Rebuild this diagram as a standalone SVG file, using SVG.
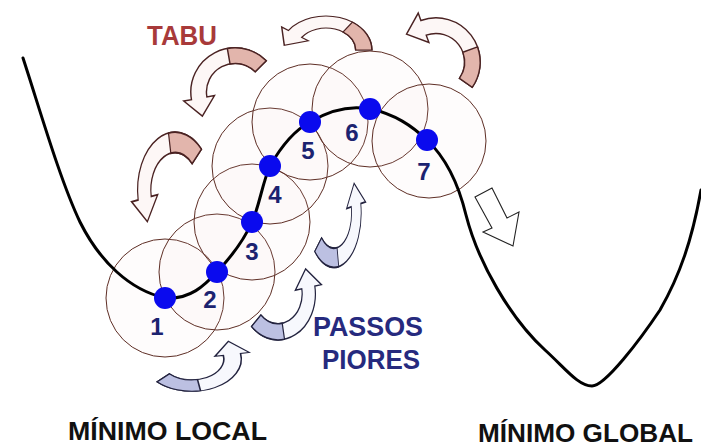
<svg xmlns="http://www.w3.org/2000/svg" xmlns:xlink="http://www.w3.org/1999/xlink" width="701" height="448" viewBox="0 0 701 448">
<style>
.nb{fill:#f3d4d4;fill-opacity:0.08;stroke:#5e2e25;stroke-width:1}
.dot{fill:#0a0aee}
.num{font-family:"Liberation Sans",Arial,sans-serif;font-weight:bold;font-size:24px;fill:#1c2370;text-anchor:middle}
.curve{fill:none;stroke:#000;stroke-width:3;stroke-linejoin:round;stroke-linecap:round}
.lbl{font-family:"Liberation Sans",Arial,sans-serif;font-weight:bold;font-size:26px}
.pkb{fill:#fdf7f6;stroke:#4a2222;stroke-width:1.1}
.pkt{fill:#e2b5ac;stroke:#4a2222;stroke-width:1.1}
.blb{fill:#f7f8fd;stroke:#23233f;stroke-width:1.1}
.blt{fill:#bcc0e2;stroke:#23233f;stroke-width:1.1}
</style>
<defs>
<g id="arrowP">
<path class="pkb" d="M34,0 A34,34 0 0 0 -27.85,-19.5 L-32.8,-23 L-30.9,-4.6 L-13.1,-9.2 L-18,-12.6 A22,22 0 0 1 22,0 Z"/>
<path class="pkt" d="M34,0 A34,34 0 0 0 19.5,-27.85 L12.6,-18 A22,22 0 0 1 22,0 Z"/>
</g>
<g id="arrowB">
<path class="blb" d="M34,0 A34,34 0 0 0 -27.85,-19.5 L-32.8,-23 L-30.9,-4.6 L-13.1,-9.2 L-18,-12.6 A22,22 0 0 1 22,0 Z"/>
<path class="blt" d="M34,0 A34,34 0 0 0 19.5,-27.85 L12.6,-18 A22,22 0 0 1 22,0 Z"/>
</g>
</defs>
<rect width="701" height="448" fill="#ffffff"/>

<g id="neighbourhoods">
<circle class="nb" cx="165" cy="298" r="59"/>
<circle class="nb" cx="217" cy="272" r="58"/>
<circle class="nb" cx="252" cy="222" r="58"/>
<circle class="nb" cx="270" cy="166" r="58"/>
<circle class="nb" cx="310" cy="122" r="58"/>
<circle class="nb" cx="370" cy="109" r="58"/>
<circle class="nb" cx="429" cy="141" r="57"/>
</g>

<g id="connectors">
<path class="curve" d="M23,58 C40,110 60,180 80,222 C100,262 130,290 165,298 C190,300 205,285 217,272 C232,256 244,240 252,222 C260,204 262,184 270,166 C282,145 295,130 310,122 C330,110 350,105 370,109 C395,114 412,126 427,140 C445,157 458,182 466,215 C478,262 510,318 545,350 C565,368 578,386 592,386 C605,386 640,340 660,310 C680,275 692,240 701,190"/>
</g>

<g id="n1"><circle class="dot" cx="165" cy="298" r="11"/><text class="num" x="157" y="335">1</text></g>
<g id="n2"><circle class="dot" cx="217" cy="272" r="11"/><text class="num" x="210" y="308">2</text></g>
<g id="n3"><circle class="dot" cx="252" cy="222" r="11"/><text class="num" x="252" y="260">3</text></g>
<g id="n4"><circle class="dot" cx="270" cy="166" r="11"/><text class="num" x="275" y="203">4</text></g>
<g id="n5"><circle class="dot" cx="310" cy="122" r="11"/><text class="num" x="308" y="159">5</text></g>
<g id="n6"><circle class="dot" cx="370" cy="109" r="11"/><text class="num" x="352" y="141">6</text></g>
<g id="n7"><circle class="dot" cx="427" cy="140" r="11"/><text class="num" x="424" y="180">7</text></g>

<g id="tabu-arrows">
<use xlink:href="#arrowP" transform="translate(326,50) scale(1.35,1)"/>
<use xlink:href="#arrowP" transform="translate(436,62) rotate(35) scale(1.3)"/>
<use xlink:href="#arrowP" transform="translate(235,92) rotate(-45) scale(1.3)"/>
<use xlink:href="#arrowP" transform="translate(175,190) scale(1.1,1.7) rotate(-45)"/>
</g>

<g id="worse-arrows">
<use xlink:href="#arrowB" transform="translate(334,213) scale(0.8,1.6) rotate(135)"/>
<use xlink:href="#arrowB" transform="translate(278,294) scale(1.1,1.35) rotate(135)"/>
<use xlink:href="#arrowB" transform="translate(192,359) scale(1.45,0.95) rotate(135)"/>
</g>

<g id="descent-arrow">
<polygon points="475,197 492,188 507,218 519,212 513,246 483,232 492,228" fill="#ffffff" stroke="#222" stroke-width="1.1"/>
</g>

<g id="labels">
<text class="lbl" x="147" y="45" textLength="70" lengthAdjust="spacingAndGlyphs" style="font-size:27px;fill:#a83a3a">TABU</text>
<text class="lbl" x="313" y="336" textLength="110" lengthAdjust="spacingAndGlyphs" style="font-size:27px;fill:#262a7e">PASSOS</text>
<text class="lbl" x="322" y="369" textLength="98" lengthAdjust="spacingAndGlyphs" style="font-size:27px;fill:#262a7e">PIORES</text>
<text class="lbl" x="68" y="440" textLength="199" lengthAdjust="spacingAndGlyphs" fill="#111">MÍNIMO LOCAL</text>
<text class="lbl" x="478" y="442" textLength="215" lengthAdjust="spacingAndGlyphs" style="font-size:25px" fill="#111">MÍNIMO GLOBAL</text>
</g>
</svg>
